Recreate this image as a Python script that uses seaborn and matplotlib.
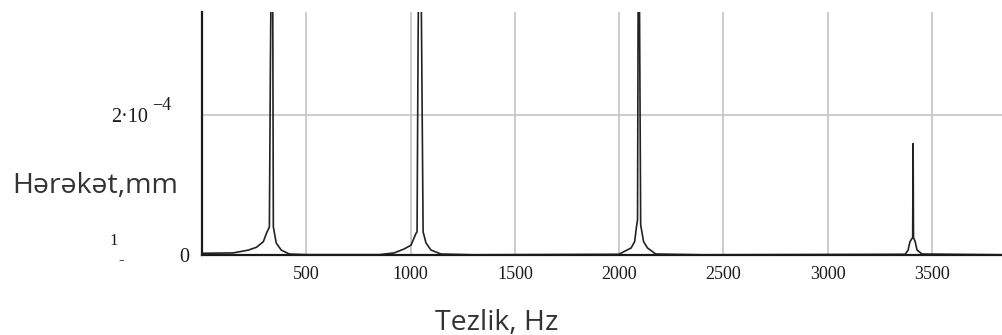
import numpy as np
import pandas as pd
import seaborn as sns
from matplotlib import pyplot as plt

# spectrum (Hz, mm); 6e-4 marks spikes clipped at the top
freq_hz = [5, 150, 222, 261, 294, 309, 323, 328, 337, 342, 356, 380, 419, 500,
           850, 921, 969, 1002, 1026, 1031, 1036, 1045, 1060, 1074, 1098, 1146, 1300,
           1998, 2057, 2074, 2084, 2088, 2093, 2103, 2117, 2136, 2175, 2400,
           3371, 3385, 3394, 3407, 3409, 3411, 3419, 3428, 3452, 3850]
amp_mm = [2.5e-6, 3e-6, 7e-6, 1.1e-5, 1.9e-5, 3.1e-5, 4e-5, 2.76e-4, 6e-4, 4e-5, 1.7e-5, 7e-6, 1.4e-6, 5e-7,
          5e-7, 3e-6, 8.6e-6, 1.4e-5, 3.1e-5, 3.3e-5, 3.1e-4, 6e-4, 3.3e-5, 1.7e-5, 7e-6, 1.4e-6, 3e-7,
          1e-6, 1e-5, 1.9e-5, 4.3e-5, 5e-5, 6e-4, 4.3e-5, 1.9e-5, 1e-5, 1.4e-6, 3e-7,
          1e-6, 7e-6, 1.9e-5, 2.5e-5, 1.59e-4, 2.5e-5, 1.9e-5, 7e-6, 1.4e-6, 3e-7]

x_ticks = [500, 1000, 1500, 2000, 2500, 3000, 3500]
y_ticks = [0, 2e-4]
y_tick_labels = ["0", "2·10"]

sns.set_theme(style="whitegrid")
serif = ["Liberation Serif", "DejaVu Serif"]
sans = ["Open Sans", "DejaVu Sans"]

fig = plt.figure(figsize=(10.03, 3.35), dpi=100)
ax = fig.add_axes([0.2014, 0.2388, 0.7986, 0.7254])

df = pd.DataFrame({"f": freq_hz, "a": amp_mm})
sns.lineplot(data=df, x="f", y="a", ax=ax, color="#222222", linewidth=1.2,
             estimator=None, sort=False)

ax.set_xlim(0, 3840)
ax.set_ylim(0, 3.47e-4)
ax.set_xticks(x_ticks)
ax.set_xticklabels([str(t) for t in x_ticks], fontfamily=serif, fontsize=13, color="#1a1a1a")
ax.set_yticks(y_ticks)
ax.set_yticklabels(y_tick_labels, fontfamily=serif, fontsize=14.5, color="#1a1a1a")
ax.tick_params(axis="both", length=0)
ax.tick_params(axis="x", pad=8)
yt = ax.yaxis.get_major_ticks()
yt[0].set_pad(9)
yt[1].set_pad(39)

ax.grid(True, color="#c8c8c8", linewidth=1.3)
ax.set_facecolor("white")
for side in ["top", "right"]:
    ax.spines[side].set_visible(False)
for side in ["left", "bottom"]:
    ax.spines[side].set_color("#1a1a1a")
    ax.spines[side].set_linewidth(1.6)

ax.set_xlabel("")
ax.set_ylabel("")
# exponent of the 2·10 label, drawn the way the original export does it
fig.text(162 / 1003, 1 - 106 / 335, "−4", ha="center", va="center",
         fontsize=13, color="#1a1a1a", family=serif)
fig.text(497 / 1003, 1 - 323 / 335, "Tezlik, Hz", ha="center", va="center",
         fontsize=20.5, color="#333333", family=sans)
fig.text(95 / 1003, 1 - 186 / 335, "Hərəkət,mm", ha="center", va="center",
         fontsize=20.5, color="#333333", family=sans)
# stray marks left over in the original export
fig.text(114 / 1003, 1 - 241 / 335, "1", ha="center", va="center",
         fontsize=12, color="#1a1a1a", family=serif)
fig.text(121 / 1003, 1 - 260 / 335, "-", ha="center", va="center",
         fontsize=12, color="#1a1a1a", family=serif)

fig.savefig("out.png", dpi=100, facecolor="white")
